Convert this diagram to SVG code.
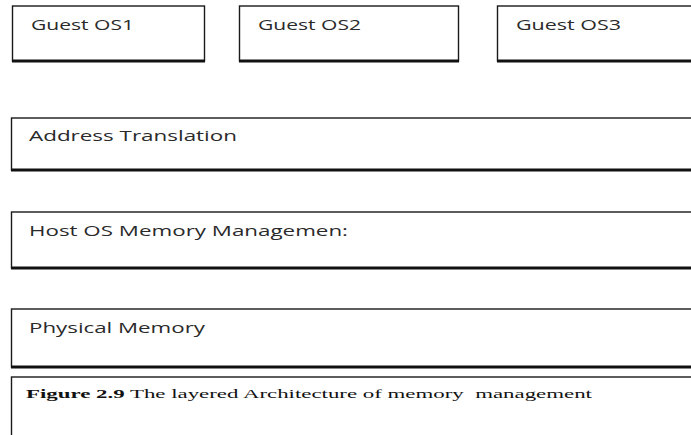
<svg xmlns="http://www.w3.org/2000/svg" width="691" height="435" viewBox="0 0 691 435">
  <style>
    .box { fill: #ffffff; stroke: #1a1a1a; stroke-width: 1.4; }
    .base { stroke: #111111; stroke-width: 3; }
    .lbl { font-family: "Open Sans", "Liberation Sans", sans-serif; font-size: 14px; fill: #2a2a2a; }
    .cap { font-family: "Liberation Serif", serif; font-size: 13px; fill: #111111; white-space: pre; }
    .capb { font-weight: bold; }
  </style>
  <rect width="691" height="435" fill="#ffffff"/>

  <g id="guest-os1">
    <rect class="box" x="12.5" y="6" width="192" height="55"/>
    <line class="base" x1="12" y1="61" x2="205" y2="61"/>
    <text class="lbl" x="31" y="30" textLength="103" lengthAdjust="spacingAndGlyphs">Guest OS1</text>
  </g>

  <g id="guest-os2">
    <rect class="box" x="239.5" y="6" width="219" height="55"/>
    <line class="base" x1="239" y1="61" x2="459" y2="61"/>
    <text class="lbl" x="258" y="30" textLength="103" lengthAdjust="spacingAndGlyphs">Guest OS2</text>
  </g>

  <g id="guest-os3">
    <rect class="box" x="497.5" y="6" width="210" height="55"/>
    <line class="base" x1="497" y1="61" x2="691" y2="61"/>
    <text class="lbl" x="516" y="30" textLength="105" lengthAdjust="spacingAndGlyphs">Guest OS3</text>
  </g>

  <g id="address-translation">
    <rect class="box" x="11.5" y="118" width="700" height="52"/>
    <line class="base" x1="11" y1="170" x2="691" y2="170"/>
    <text class="lbl" x="29" y="141" textLength="208" lengthAdjust="spacingAndGlyphs">Address Translation</text>
  </g>

  <g id="host-os-memory">
    <rect class="box" x="11.5" y="212" width="700" height="56"/>
    <line class="base" x1="11" y1="268" x2="691" y2="268"/>
    <text class="lbl" x="29" y="236" textLength="319" lengthAdjust="spacingAndGlyphs">Host OS Memory Managemen:</text>
  </g>

  <g id="physical-memory">
    <rect class="box" x="11.5" y="309" width="700" height="58"/>
    <line class="base" x1="11" y1="367" x2="691" y2="367"/>
    <text class="lbl" x="29" y="333" textLength="176" lengthAdjust="spacingAndGlyphs">Physical Memory</text>
  </g>

  <g id="caption">
    <rect class="box" x="11.5" y="377" width="700" height="80"/>
    <text class="cap" x="26" y="398" textLength="566" lengthAdjust="spacingAndGlyphs"><tspan class="capb">Figure 2.9</tspan> The layered Architecture of memory  management</text>
  </g>

  <g id="connectors"></g>
</svg>
